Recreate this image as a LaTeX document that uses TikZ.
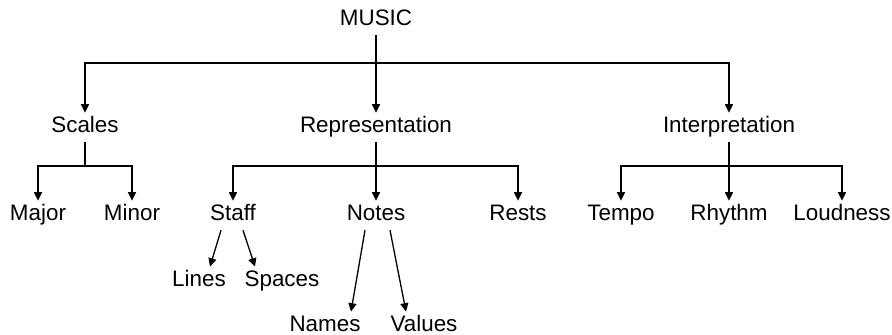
\documentclass[tikz,border=0pt]{standalone}
\usepackage{fontspec}
\setmainfont{Liberation Sans}
\usetikzlibrary{arrows.meta}
\begin{document}
\begin{tikzpicture}[x=0.5pt,y=-0.5pt,
  lbl/.style={anchor=base,inner xsep=0pt,inner ysep=2pt,text height=8pt,text depth=2.4pt,
              font=\fontsize{11.2}{13}\selectfont},
  con/.style={line width=0.65pt},
  arr/.style={con,-{Triangle[length=4.2pt,width=4pt]}}]
\useasboundingbox (0,0) rectangle (892,335);

% level 0
\node[lbl] (music) at (376,26) {MUSIC};
% level 1
\node[lbl] (scales) at (85,133) {Scales};
\node[lbl] (repr)   at (376,133) {Representation};
\node[lbl] (interp) at (729,133) {Interpretation};
% level 2
\node[lbl] (major)  at (38,221)  {Major};
\node[lbl] (minor)  at (132,221) {Minor};
\node[lbl] (staff)  at (233,221) {Staff};
\node[lbl] (notes)  at (376,221) {Notes};
\node[lbl] (rests)  at (518,221) {Rests};
\node[lbl] (tempo)  at (621,221) {Tempo};
\node[lbl] (rhythm) at (729,221) {Rhythm};
\node[lbl] (loud)   at (842,221) {Loudness};
% level 3
\node[lbl] (lines)  at (199,287) {Lines};
\node[lbl] (spaces) at (282,287) {Spaces};
% level 4
\node[lbl] (names)  at (325,332) {Names};
\node[lbl] (values) at (424,332) {Values};

% branch points
\coordinate (mb) at (376,63);
\coordinate (sb) at (85,166);
\coordinate (rb) at (376,166);
\coordinate (ib) at (729,166);

% MUSIC
\draw[arr] (music.south) -- (repr.north);
\draw[arr] (mb) -| (scales.north);
\draw[arr] (mb) -| (interp.north);
% Scales
\draw[con] (scales.south) -- (sb);
\draw[arr] (sb) -| (major.north);
\draw[arr] (sb) -| (minor.north);
% Representation
\draw[arr] (repr.south) -- (notes.north);
\draw[arr] (rb) -| (staff.north);
\draw[arr] (rb) -| (rests.north);
% Interpretation
\draw[arr] (interp.south) -- (rhythm.north);
\draw[arr] (ib) -| (tempo.north);
\draw[arr] (ib) -| (loud.north);
% Staff
\draw[arr] ([xshift=-6pt]staff.south) -- ([xshift=5.5pt]lines.north);
\draw[arr] ([xshift=5pt]staff.south) -- ([xshift=-13.5pt]spaces.north);
% Notes
\draw[arr] ([xshift=-5.5pt]notes.south) -- ([xshift=13pt]names.north);
\draw[arr] ([xshift=7pt]notes.south) -- ([xshift=-9pt]values.north);
\end{tikzpicture}
\end{document}
